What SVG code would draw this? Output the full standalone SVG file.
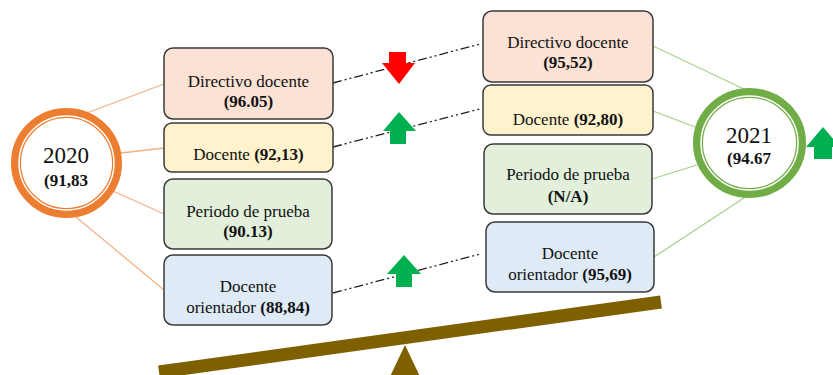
<svg xmlns="http://www.w3.org/2000/svg" width="833" height="375" viewBox="0 0 833 375">
<style>
.box{stroke:#3a3a3a;stroke-width:1.5}
.t{font-family:"Liberation Serif","Times New Roman",serif;font-size:17px;fill:#111;text-anchor:middle}
.b{font-weight:bold}
.yr{font-family:"Liberation Serif","Times New Roman",serif;font-size:23px;fill:#111;text-anchor:middle}
.dd{stroke:#222;stroke-width:1.3;fill:none;stroke-dasharray:9 3 2 3 2 3}
.lo{stroke:#f4b183;stroke-width:1.3;fill:none}
.lg{stroke:#a9d18e;stroke-width:1.3;fill:none}
.up{fill:#00b050}
.dn{fill:#ff0000}
</style>
<rect width="833" height="375" fill="#fff"/>
<g id="connectors">
<line class="lo" x1="76" y1="117" x2="164" y2="84"/>
<line class="lo" x1="121" y1="153" x2="164" y2="148"/>
<line class="lo" x1="113" y1="191" x2="164" y2="214"/>
<line class="lo" x1="76" y1="217" x2="164" y2="290"/>
<line class="lg" x1="653" y1="46" x2="746" y2="90"/>
<line class="lg" x1="653" y1="111" x2="695" y2="127"/>
<line class="lg" x1="652" y1="179" x2="697" y2="165"/>
<line class="lg" x1="654" y1="257" x2="747" y2="196"/>
<line class="dd" x1="333" y1="83" x2="480" y2="44"/>
<line class="dd" x1="333" y1="147" x2="480" y2="109"/>
<line class="dd" x1="333" y1="293" x2="480" y2="254"/>
</g>
<g id="year2020">
<ellipse cx="66.5" cy="163" rx="50.5" ry="50" fill="#fff" stroke="#ed7d31" stroke-width="10"/>
<ellipse cx="66.5" cy="163" rx="47.5" ry="47" fill="none" stroke="#fff" stroke-width="1.5"/>
<text class="yr" x="66" y="163">2020</text>
<text class="t b" x="66" y="186">(91,83</text>
</g>
<g id="year2021">
<ellipse cx="749.5" cy="143" rx="51.5" ry="50" fill="#fff" stroke="#70ad47" stroke-width="10"/>
<ellipse cx="749.5" cy="143" rx="48.5" ry="47" fill="none" stroke="#fff" stroke-width="1.5"/>
<text class="yr" x="749" y="143">2021</text>
<text class="t b" x="749" y="164">(94.67</text>
</g>
<g id="l-directivo">
<rect class="box" x="164" y="48" width="169" height="71" rx="9" fill="#fbe2d5"/>
<text class="t" x="248.5" y="87">Directivo docente</text>
<text class="t b" x="248.5" y="107">(96.05)</text>
</g>
<g id="l-docente">
<rect class="box" x="164" y="123" width="169" height="49" rx="8" fill="#fff2cc"/>
<text class="t" x="248.5" y="160">Docente <tspan class="b">(92,13)</tspan></text>
</g>
<g id="l-periodo">
<rect class="box" x="164" y="179" width="168" height="70" rx="9" fill="#e2efda"/>
<text class="t" x="248" y="217">Periodo de prueba</text>
<text class="t b" x="248" y="237">(90.13)</text>
</g>
<g id="l-orientador">
<rect class="box" x="164" y="255" width="168" height="70" rx="9" fill="#deebf7"/>
<text class="t" x="248" y="292">Docente</text>
<text class="t" x="248" y="313">orientador <tspan class="b">(88,84)</tspan></text>
</g>
<g id="r-directivo">
<rect class="box" x="483" y="11" width="170" height="71" rx="9" fill="#fbe2d5"/>
<text class="t" x="568" y="48">Directivo docente</text>
<text class="t b" x="568" y="68">(95,52)</text>
</g>
<g id="r-docente">
<rect class="box" x="483" y="85" width="170" height="50" rx="8" fill="#fff2cc"/>
<text class="t" x="568" y="125">Docente <tspan class="b">(92,80)</tspan></text>
</g>
<g id="r-periodo">
<rect class="box" x="484" y="144" width="168" height="70" rx="9" fill="#e2efda"/>
<text class="t" x="568" y="180">Periodo de prueba</text>
<text class="t b" x="568" y="202">(N/A)</text>
</g>
<g id="r-orientador">
<rect class="box" x="486" y="222" width="168" height="70" rx="9" fill="#deebf7"/>
<text class="t" x="570" y="259">Docente</text>
<text class="t" x="570" y="280">orientador <tspan class="b">(95,69)</tspan></text>
</g>
<g id="arrows">
<polygon class="dn" points="389,52 406,52 406,63 415,63 399,84 382,63 389,63"/>
<polygon class="up" points="399,112 416,131 406,131 406,144 390,144 390,131 383,131"/>
<polygon class="up" points="404,255 421,274 412,274 412,287 396,287 396,274 387,274"/>
<polygon class="up" points="823,127 840,147 832,147 832,159 814,159 814,147 806,147"/>
</g>
<g id="seesaw">
<line x1="159" y1="372" x2="661" y2="302" stroke="#7f6000" stroke-width="13"/>
<polygon points="405,345 424,385 386,385" fill="#7f6000"/>
</g>
</svg>
